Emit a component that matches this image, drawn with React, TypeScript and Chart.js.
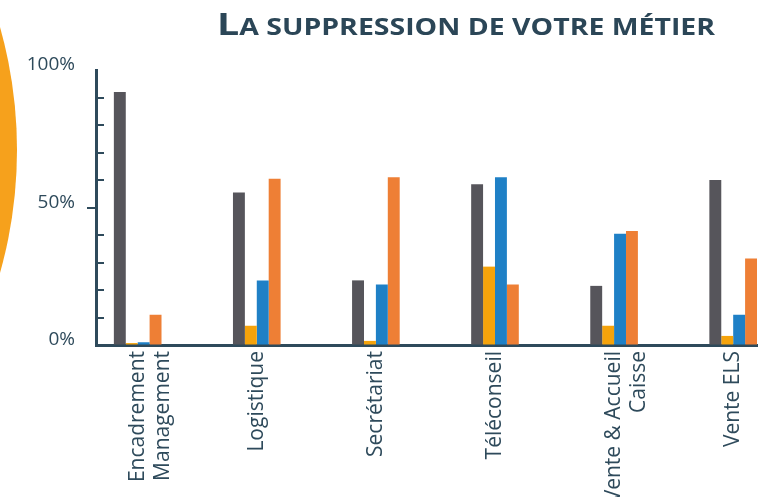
import React, { useEffect, useRef } from "react";
import { Chart, registerables } from "chart.js";

Chart.register(...registerables);

const categories: (string | string[])[] = [
  ["Encadrement", "Management"],
  "Logistique",
  "Secrétariat",
  "Téléconseil",
  ["Vente & Accueil", "Caisse"],
  "Vente ELS",
];

const seriesNames = ["Série 1", "Série 2", "Série 3", "Série 4"];
const serieGray = [92, 55.5, 23.5, 58.5, 21.5, 60];
const serieYellow = [0.7, 7, 1.5, 28.5, 7, 3.3];
const serieBlue = [1, 23.5, 22, 61, 40.5, 11];
const serieOrange = [11, 60.5, 61, 22, 41.5, 31.5];

const yLabelTicks = [0, 50, 100];
const yMinorTicks = [10, 20, 30, 40, 50, 60, 70, 80, 90];

const colors = ["#56555b", "#f5a30b", "#1f80c6", "#ee7f35"];
const axisColor = "#2e4a5b";
const FONT = "'Open Sans', sans-serif";

const tickPlugin = {
  id: "innerTicks",
  afterDraw(chart: any) {
    const ctx = chart.ctx;
    const y = chart.scales.y;
    const x0 = chart.chartArea.left;
    ctx.save();
    ctx.strokeStyle = axisColor;
    ctx.lineWidth = 2;
    yMinorTicks.forEach((v) => {
      const py = Math.round(y.getPixelForValue(v));
      ctx.beginPath();
      if (v === 50) {
        ctx.moveTo(x0 - 9, py);
        ctx.lineTo(x0, py);
      } else {
        ctx.moveTo(x0, py);
        ctx.lineTo(x0 + 8, py);
      }
      ctx.stroke();
    });
    ctx.restore();
  },
};

export default function App() {
  const ref = useRef<HTMLCanvasElement | null>(null);

  useEffect(() => {
    if (!ref.current) return;
    const all = [serieGray, serieYellow, serieBlue, serieOrange];
    const chart = new Chart(ref.current, {
      type: "bar",
      data: {
        datasets: all.map((vals, si) => ({
          label: seriesNames[si],
          data: vals.map((v, i) => ({ x: i, y: v })),
          backgroundColor: colors[si],
          borderWidth: 0,
          categoryPercentage: 0.4,
          barPercentage: 1,
        })),
      },
      options: {
        animation: false,
        responsive: false,
        devicePixelRatio: 1,
        layout: { padding: { left: 0, right: 18, top: 70, bottom: 0 } },
        plugins: {
          legend: { display: false },
          tooltip: { enabled: false },
          title: { display: false },
        },
        scales: {
          x: {
            type: "linear",
            offset: false,
            min: -0.35,
            max: 5.2,
            afterBuildTicks: (scale: any) => {
              scale.ticks = categories.map((_, i) => ({ value: i }));
            },
            afterFit: (scale: any) => {
              scale.height = 152;
            },
            grid: { display: true, offset: false, drawOnChartArea: false, drawTicks: false },
            border: { display: true, color: axisColor, width: 3 },
            ticks: {
              minRotation: 90,
              maxRotation: 90,
              autoSkip: false,
              padding: 6,
              color: axisColor,
              font: { family: FONT, size: 21 },
              callback: (v: any) => categories[v as number] as any,
            },
          },
          y: {
            type: "linear",
            min: 0,
            max: 100,
            afterBuildTicks: (scale: any) => {
              scale.ticks = yLabelTicks.map((v) => ({ value: v }));
            },
            afterFit: (scale: any) => {
              scale.width = 96;
            },
            grid: { display: true, drawOnChartArea: false, drawTicks: false },
            border: { display: true, color: axisColor, width: 3 },
            ticks: {
              padding: 21,
              labelOffset: -5,
              color: axisColor,
              font: { family: FONT, size: 19 },
              callback: (v: any) => v + "%",
            },
          },
        },
      },
      plugins: [tickPlugin],
    });
    return () => chart.destroy();
  }, []);

  return (
    <div style={{ position: "absolute", left: 0, top: 0, width: 775, height: 497, overflow: "hidden", background: "#fff" }}>
      <div
        style={{
          position: "absolute",
          left: -889,
          top: 150 - 453,
          width: 906,
          height: 906,
          borderRadius: "50%",
          background: "#f6a11c",
        }}
      />
      <canvas ref={ref} width={775} height={497} style={{ position: "absolute", left: 0, top: 0 }} />
      <div
        style={{
          position: "absolute",
          left: 217,
          top: 2,
          fontFamily: FONT,
          fontWeight: 700,
          color: "#2b4657",
          whiteSpace: "nowrap",
          lineHeight: "42px",
          transform: "scaleX(1.27)",
          transformOrigin: "left center",
        }}
      >
        <span style={{ fontSize: 31 }}>L</span>
        <span style={{ fontSize: 22.4 }}>A SUPPRESSION DE VOTRE MÉTIER</span>
      </div>
    </div>
  );
}
